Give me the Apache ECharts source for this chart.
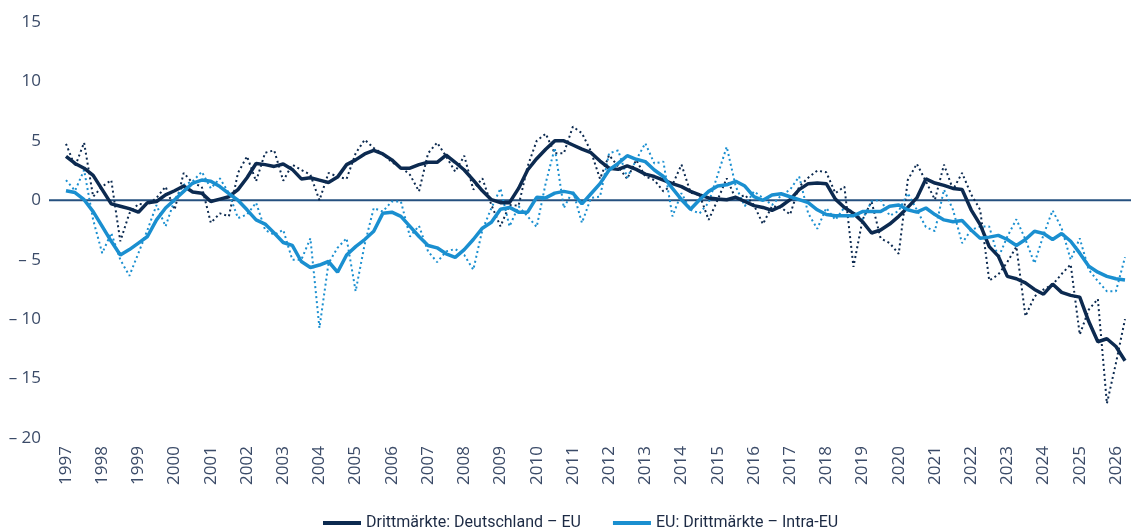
<!DOCTYPE html>
<html>
<head>
<meta charset="utf-8">
<script src="https://cdn.jsdelivr.net/npm/echarts@6/dist/echarts.min.js"></script>
<style>
  html, body { margin: 0; padding: 0; background: #fff; }
  #main { width: 1131px; height: 531px; }
</style>
</head>
<body>
<div id="main"></div>
<script>
// years shown on the axis, data is quarterly from 1997 Q1
const years = [1997, 1998, 1999, 2000, 2001, 2002, 2003, 2004, 2005, 2006, 2007, 2008, 2009, 2010, 2011,
  2012, 2013, 2014, 2015, 2016, 2017, 2018, 2019, 2020, 2021, 2022, 2023, 2024, 2025, 2026];
const yTicks = [-20, -15, -10, -5, 0, 5, 10, 15];

// Drittmärkte: Deutschland – EU (geglättet)
const deSmooth = [3.7, 3.1, 2.7, 2.1, 0.9, -0.3, -0.5, -0.7, -1.0, -0.2, -0.1, 0.45, 0.8, 1.2, 0.7, 0.6,
  -0.1, 0.1, 0.3, 0.9, 1.9, 3.1, 3.0, 2.85, 3.05, 2.6, 1.8, 1.9, 1.7, 1.5, 1.95, 3.0,
  3.4, 3.9, 4.2, 3.9, 3.4, 2.7, 2.7, 3.0, 3.2, 3.2, 3.8, 3.2, 2.55, 1.7, 0.8, 0.05,
  -0.2, -0.2, 1.0, 2.55, 3.5, 4.3, 5.0, 5.0, 4.65, 4.3, 4.0, 3.3, 2.7, 2.6, 2.9, 2.6,
  2.2, 2.0, 1.7, 1.4, 1.15, 0.75, 0.45, 0.2, 0.1, 0.05, 0.25, -0.1, -0.45, -0.6, -0.85, -0.5,
  0.05, 0.9, 1.4, 1.45, 1.4, 0.1, -0.6, -1.1, -1.8, -2.75, -2.5, -2.0, -1.35, -0.6, 0.2, 1.8,
  1.45, 1.25, 1.0, 0.9, -0.8, -2.05, -3.9, -4.7, -6.4, -6.6, -6.95, -7.5, -7.9, -7.05, -7.75, -8.0,
  -8.15, -10.2, -11.9, -11.65, -12.3, -13.5];

// Drittmärkte: Deutschland – EU (Quartalswerte)
const deRaw = [4.75, 2.85, 4.85, 0.3, 1.15, 1.7, -3.45, -1.1, -0.3, -0.4, 0.2, 1.15, -0.8, 2.3, 1.45, 1.15,
  -1.9, -1.1, -1.35, 2.3, 3.7, 1.6, 4.0, 4.2, 1.65, 3.0, 2.55, 2.15, 0.0, 2.3, 2.0, 1.8,
  3.95, 5.1, 4.4, 3.9, 3.2, 2.8, 2.15, 0.75, 3.95, 4.85, 3.7, 2.4, 3.75, 0.9, 1.85, -0.4,
  -2.2, -0.4, -0.45, 2.85, 5.0, 5.6, 3.95, 3.95, 6.2, 5.65, 4.1, 1.8, 3.8, 2.85, 1.8, 3.4,
  2.0, 1.7, 0.75, 1.3, 3.0, 0.65, 0.45, -1.65, 0.05, 1.85, 0.1, 0.45, -0.4, -2.0, -0.5, -0.6,
  -1.2, 1.15, 1.9, 2.5, 2.35, 0.6, 1.15, -5.6, -1.65, -0.1, -3.2, -3.6, -4.5, 1.7, 3.07, 1.6,
  0.05, 3.0, 0.9, 2.3, 0.5, -0.8, -6.75, -6.25, -5.2, -3.9, -9.75, -8.1, -7.5, -7.1, -6.2, -5.4,
  -11.3, -9.2, -8.3, -17.1, -13.7, -10.0];

// EU: Drittmärkte – Intra-EU (geglättet)
const euSmooth = [0.8, 0.65, 0.05, -0.95, -2.2, -3.45, -4.6, -4.15, -3.6, -3.05, -1.65, -0.65, 0.05, 0.75, 1.45, 1.7,
  1.6, 1.15, 0.55, 0.0, -0.8, -1.65, -2.0, -2.75, -3.55, -3.8, -5.15, -5.65, -5.45, -5.15, -6.05, -4.6,
  -3.9, -3.3, -2.6, -1.1, -1.0, -1.35, -2.2, -3.05, -3.8, -4.0, -4.5, -4.8, -4.15, -3.3, -2.35, -1.85,
  -0.75, -0.6, -1.0, -1.0, 0.25, 0.2, 0.6, 0.75, 0.6, -0.3, 0.55, 1.4, 2.55, 3.1, 3.75, 3.45,
  3.25, 2.55, 2.0, 1.0, 0.05, -0.75, 0.05, 0.75, 1.2, 1.3, 1.6, 1.2, 0.3, 0.0, 0.45, 0.55,
  0.3, 0.05, -0.2, -0.8, -1.2, -1.3, -1.3, -1.3, -0.95, -0.95, -0.95, -0.5, -0.4, -0.8, -1.0, -0.65,
  -1.2, -1.65, -1.8, -1.7, -2.5, -3.2, -3.1, -2.95, -3.3, -3.8, -3.3, -2.6, -2.8, -3.3, -2.8, -3.45,
  -4.45, -5.55, -6.05, -6.4, -6.6, -6.7];

// EU: Drittmärkte – Intra-EU (Quartalswerte)
const euRaw = [1.7, 0.8, 2.55, -1.65, -4.45, -2.75, -5.0, -6.35, -4.45, -2.5, -0.4, -2.2, 0.05, 1.3, 1.6, 2.4,
  1.0, 1.85, 0.6, -1.5, -1.2, -0.2, -2.5, -2.9, -2.5, -5.0, -5.0, -3.2, -10.75, -5.3, -4.0, -3.2,
  -7.65, -3.7, -0.65, -0.95, -0.1, -0.1, -3.05, -2.15, -4.3, -5.2, -4.3, -4.1, -4.6, -5.85, -2.5, -0.65,
  1.0, -2.2, -0.5, -1.35, -2.25, 1.45, 4.4, -0.65, 0.8, -1.9, 0.2, 0.3, 3.95, 4.2, 1.9, 3.4,
  4.8, 3.1, 3.25, -1.35, 0.6, -0.8, -1.1, -0.2, 2.15, 4.5, 1.15, -0.5, 0.75, 0.2, -0.4, 0.4,
  0.9, 2.0, -1.1, -2.4, -0.65, -1.65, -0.6, -1.0, -1.6, -0.1, 0.05, -1.3, -0.9, 0.6, -0.8, -2.25,
  -2.6, 0.9, -0.8, -3.6, -2.5, -2.2, -2.2, -4.85, -3.05, -1.6, -3.3, -5.3, -2.9, -0.85, -2.35, -5.0,
  -3.2, -5.85, -6.8, -7.65, -7.65, -4.8];

const quarters = [];
years.forEach(y => { for (let q = 1; q <= 4; q++) quarters.push(y + ' Q' + q); });
const categories = quarters.slice(0, deSmooth.length);

const darkBlue = '#0c2a50';
const lightBlue = '#1a8fd0';
const labelColor = '#3b4b68';

const chart = echarts.init(document.getElementById('main'));

const option = {
  animation: false,
  grid: { left: 66, right: 6, top: 22, bottom: 93 },
  legend: {
    data: ['Drittmärkte: Deutschland – EU', 'EU: Drittmärkte – Intra-EU'],
    left: 318,
    top: 510,
    icon: 'rect',
    itemWidth: 38,
    itemHeight: 4,
    itemGap: 32,
    textStyle: { fontFamily: 'Roboto, sans-serif', fontSize: 16, color: '#1c2a44' }
  },
  xAxis: {
    type: 'category',
    data: categories,
    boundaryGap: false,
    axisLine: { show: false },
    axisTick: { show: false },
    splitLine: { show: false },
    axisLabel: {
      interval: 3,
      rotate: 90,
      margin: 8,
      color: labelColor,
      fontFamily: 'Open Sans, sans-serif',
      fontSize: 17,
      formatter: v => v.slice(0, 4)
    }
  },
  yAxis: {
    type: 'value',
    min: yTicks[0],
    max: yTicks[yTicks.length - 1],
    interval: 5,
    axisLine: { show: false },
    axisTick: { show: false },
    splitLine: { show: false },
    axisLabel: {
      margin: 25,
      color: labelColor,
      fontFamily: 'Open Sans, sans-serif',
      fontSize: 17,
      formatter: v => v < 0 ? '– ' + Math.abs(v) : String(v)
    }
  },
  series: [
    {
      name: 'Deutschland – EU Quartal',
      type: 'line',
      data: deRaw,
      symbol: 'none',
      lineStyle: { color: darkBlue, width: 2, type: [2, 3] },
      z: 3
    },
    {
      name: 'Intra-EU Quartal',
      type: 'line',
      data: euRaw,
      symbol: 'none',
      lineStyle: { color: lightBlue, width: 2, type: [2, 3] },
      z: 3
    },
    {
      name: 'Drittmärkte: Deutschland – EU',
      type: 'line',
      data: deSmooth,
      symbol: 'none',
      itemStyle: { color: darkBlue },
      lineStyle: { color: darkBlue, width: 3.5 },
      z: 4
    },
    {
      name: 'EU: Drittmärkte – Intra-EU',
      type: 'line',
      data: euSmooth,
      symbol: 'none',
      itemStyle: { color: lightBlue },
      lineStyle: { color: lightBlue, width: 3.5 },
      z: 5
    }
  ]
};

chart.setOption(option);

// zero line reaching a bit left of the data, placed via the y scale
const y0 = chart.convertToPixel({ yAxisIndex: 0 }, 0);
chart.setOption({
  graphic: [{
    type: 'line',
    z: 1,
    shape: { x1: 49, y1: y0, x2: 1131, y2: y0 },
    style: { stroke: '#25507f', lineWidth: 2 }
  }]
});
</script>
</body>
</html>
